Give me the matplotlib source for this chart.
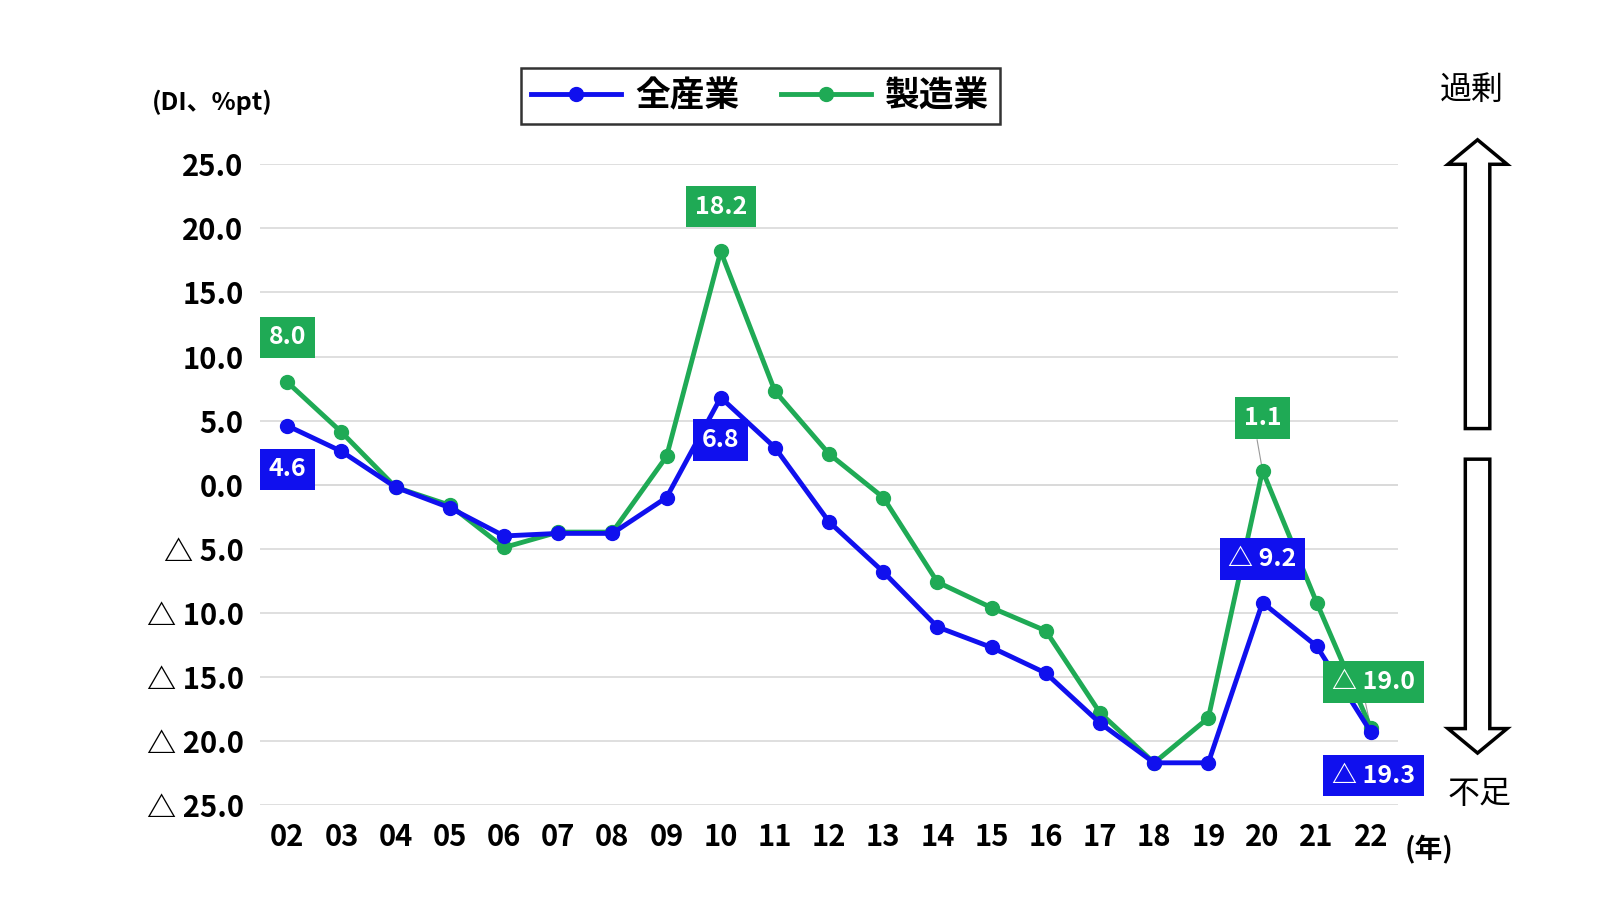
import matplotlib
matplotlib.use('Agg')
import matplotlib.pyplot as plt
from matplotlib.patches import FancyArrow
from matplotlib.lines import Line2D

plt.rcParams['font.family'] = 'Noto Sans CJK JP'

years = ['02', '03', '04', '05', '06', '07', '08', '09', '10', '11',
         '12', '13', '14', '15', '16', '17', '18', '19', '20', '21', '22']
all_ind = [4.6, 2.6, -0.2, -1.8, -4.0, -3.8, -3.8, -1.0, 6.8, 2.9,
           -2.9, -6.8, -11.1, -12.7, -14.7, -18.6, -21.7, -21.7, -9.2, -12.6, -19.3]
manuf = [8.0, 4.1, -0.2, -1.6, -4.9, -3.7, -3.7, 2.2, 18.2, 7.3,
         2.4, -1.0, -7.6, -9.6, -11.4, -17.8, -21.7, -18.2, 1.1, -9.2, -19.0]
yticks = [25, 20, 15, 10, 5, 0, -5, -10, -15, -20, -25]

BLUE = '#1010ee'
GREEN = '#1faa55'
W, H = 1568, 882

fig = plt.figure(figsize=(16, 9), dpi=100)
ax = fig.add_axes([255 / W, 1 - 789 / H, (1370 - 255) / W, (789 - 161) / H])
x = list(range(len(years)))
ax.plot(x, manuf, color=GREEN, lw=3.5, marker='o', ms=10, zorder=3)
ax.plot(x, all_ind, color=BLUE, lw=3.5, marker='o', ms=10, zorder=4)
ax.set_xlim(-0.5, len(years) - 0.5)
ax.set_ylim(-25, 25)
ax.set_yticks(yticks)
ax.set_yticklabels([f'{v:.1f}' if v >= 0 else f'△ {abs(v):.1f}' for v in yticks],
                   fontsize=21, fontweight='bold')
ax.set_xticks(x)
ax.set_xticklabels(years, fontsize=21, fontweight='bold')
ax.tick_params(length=0, pad=12)
ax.grid(axis='y', color='#d9d9d9', lw=1.2)
for s in ax.spines.values():
    s.set_visible(False)
ax.axhline(0, color='#d9d9d9', lw=1.2)

def box(xv, yv, txt, col):
    ax.text(xv, yv, txt, color='white', fontsize=18, fontweight='bold', ha='center', va='center',
            zorder=6, bbox=dict(boxstyle='square,pad=0.35', fc=col, ec='none'))

box(0, 11.5, '8.0', GREEN)
box(0, 1.2, '4.6', BLUE)
box(8, 21.7, '18.2', GREEN)
box(8, 3.5, '6.8', BLUE)
box(18, 5.2, '1.1', GREEN)
box(18, -5.8, '△ 9.2', BLUE)
box(20.05, -15.4, '△ 19.0', GREEN)
box(20.05, -22.7, '△ 19.3', BLUE)
ax.plot([17.9, 18], [3.5, 1.1], color='#999999', lw=0.8)
ax.plot([19.9, 20], [-17, -19.0], color='#999999', lw=0.8)

# overlay in pixel coordinates
ov = fig.add_axes([0, 0, 1, 1])
ov.set_xlim(0, W)
ov.set_ylim(H, 0)
ov.axis('off')
ov.patch.set_alpha(0)
ov.text(208, 100, '(DI、%pt)', fontsize=18, fontweight='bold', ha='center', va='center')
ov.text(1442, 88, '過剰', fontsize=23, ha='center', va='center')
ov.text(1450, 778, '不足', fontsize=23, ha='center', va='center')
ov.text(1400, 833, '(年)', fontsize=20, fontweight='bold', ha='center', va='center')
ov.add_patch(FancyArrow(1448, 420, 0, -283, width=24, head_width=58, head_length=24,
                        length_includes_head=True, fc='white', ec='black', lw=2.5))
ov.add_patch(FancyArrow(1448, 450, 0, 288, width=24, head_width=58, head_length=24,
                        length_includes_head=True, fc='white', ec='black', lw=2.5))

handles = [Line2D([], [], color=BLUE, lw=3.5, marker='o', ms=10),
           Line2D([], [], color=GREEN, lw=3.5, marker='o', ms=10)]
leg = fig.legend(handles, ['全産業', '製造業'], loc='center', ncol=2,
                 bbox_to_anchor=(745 / W, 1 - 94 / H), frameon=True, fancybox=False,
                 prop={'size': 25, 'weight': 'bold'}, handlelength=2.6, handletextpad=0.4,
                 columnspacing=1.2, borderpad=0.3, edgecolor='black')
leg.get_frame().set_linewidth(1.8)

fig.savefig('out.png', dpi=100, facecolor='white')
